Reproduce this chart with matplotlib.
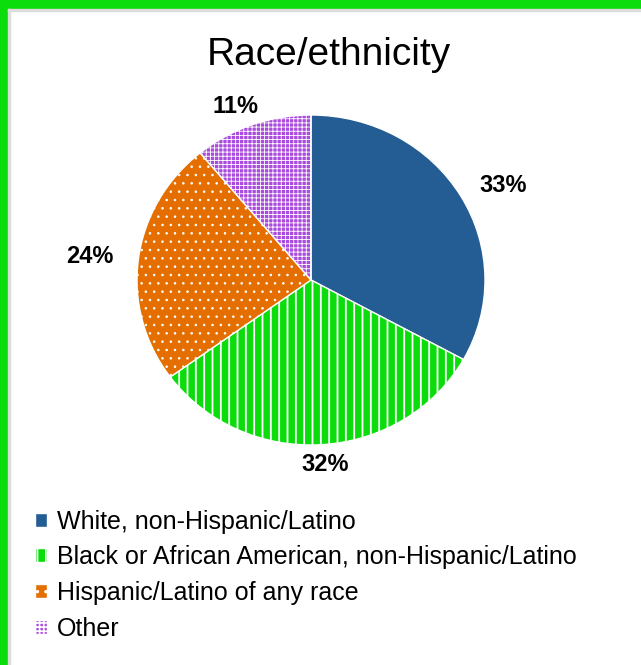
import matplotlib
matplotlib.use("Agg")
import matplotlib.pyplot as plt
from matplotlib.patches import Rectangle

# race/ethnicity shares (percent)
categories = [
    "White, non-Hispanic/Latino",
    "Black or African American, non-Hispanic/Latino",
    "Hispanic/Latino of any race",
    "Other",
]
shares = [33, 32, 24, 11]

colors = ["#245c94", "#0bdc0b", "#e46f00", "#a94bdc"]
hatches = [None, "||", "..", "++++"]
hatch_widths = [1.0, 1.3, 0.6, 0.6]

plt.rcParams["font.family"] = ["Liberation Sans", "DejaVu Sans"]
plt.rcParams["hatch.color"] = "white"
plt.rcParams["hatch.linewidth"] = 1.2

W, H = 641, 665
fig = plt.figure(figsize=(W / 100, H / 100), dpi=100)

# green frame on the top and left edges
fig.patches.append(Rectangle((0, 1 - 9 / H), 1, 9 / H, transform=fig.transFigure,
                             color="#0bdc0b", zorder=0))
fig.patches.append(Rectangle((0, 0), 8 / W, 1, transform=fig.transFigure,
                             color="#0bdc0b", zorder=0))
fig.patches.append(Rectangle((8 / W, 1 - 11 / H), 1, 2 / H, transform=fig.transFigure,
                             color="#dcdcdc", zorder=0))
fig.patches.append(Rectangle((8 / W, 0), 2 / W, 1 - 9 / H, transform=fig.transFigure,
                             color="#dcdcdc", zorder=0))

fig.text(329 / W, 1 - 55 / H, "Race/ethnicity", ha="center", va="center", fontsize=28)

cx, cy, rx, ry = 311, 280, 174, 165
ax = fig.add_axes([(cx - rx) / W, (H - cy - ry) / H, 2 * rx / W, 2 * ry / H])
wedges, texts, autotexts = ax.pie(
    shares, colors=colors, startangle=90, counterclock=False,
    autopct="%d%%", pctdistance=1.0,
    wedgeprops=dict(linewidth=1, edgecolor="white"),
    textprops=dict(fontsize=17, fontweight="bold", color="black"),
)
# push the percentage labels outside the rim (wider sideways than vertically)
for t in autotexts:
    x, y = t.get_position()
    t.set_position((x * 1.28, y * 1.12))
for w, h, lw in zip(wedges, hatches, hatch_widths):
    if h:
        w.set_hatch(h)
        if hasattr(w, "set_hatch_linewidth"):
            w.set_hatch_linewidth(lw)
ax.set_aspect("auto")
ax.set_xlim(-1, 1)
ax.set_ylim(-1, 1)
ax.axis("off")

fig.legend(wedges, categories, loc="upper left",
           bbox_to_anchor=(22 / W, 1 - 497 / H), frameon=False,
           fontsize=18, handlelength=0.48, handleheight=0.48,
           handletextpad=0.42, labelspacing=0.47, borderpad=0)

fig.savefig("out.png", dpi=100, facecolor="white")
